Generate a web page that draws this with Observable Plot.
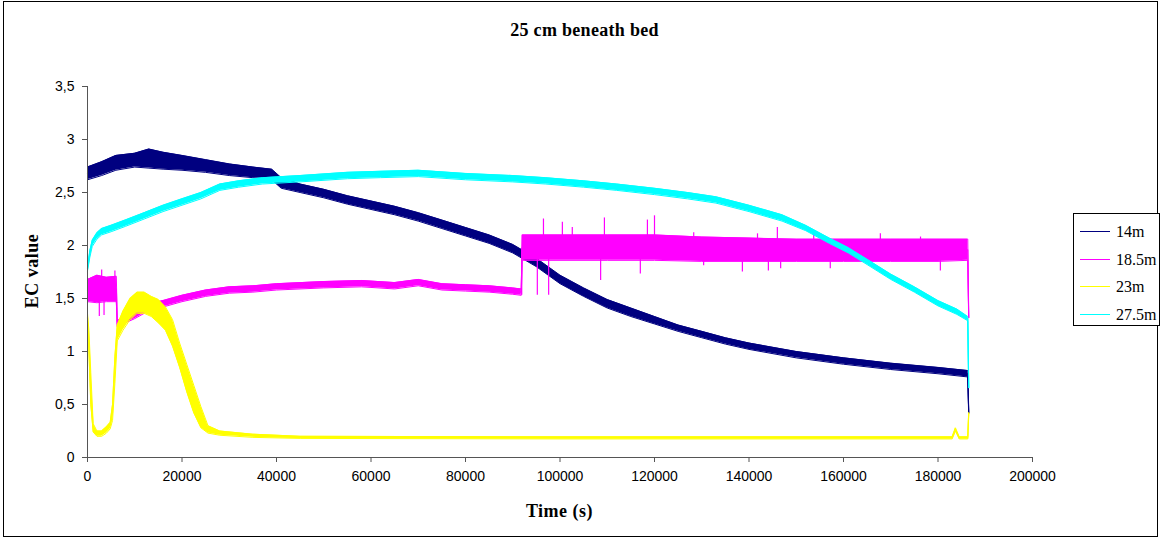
<!DOCTYPE html>
<html>
<head>
<meta charset="utf-8">
<script src="https://cdn.jsdelivr.net/npm/d3@7"></script>
<script src="https://cdn.jsdelivr.net/npm/@observablehq/plot@0.6"></script>
<style>
  html, body { margin: 0; padding: 0; background: #fff; }
  #wrap { position: relative; width: 1163px; height: 540px; overflow: hidden; }
  #frame { position: absolute; left: 3px; top: 1px; width: 1153px; height: 534px; border: 1.5px solid #000; box-sizing: content-box; }
  .serif { font-family: "Liberation Serif", "Times New Roman", serif; color: #000; position: absolute; white-space: nowrap; }
  #title { left: 0; width: 1163px; top: 20px; text-align: center; font-weight: bold; font-size: 18px; letter-spacing: 0.3px; padding-left: 6px; box-sizing: border-box; }
  #xlabel { left: 87px; width: 945px; top: 501px; text-align: center; font-weight: bold; font-size: 18px; letter-spacing: 0.5px; }
  #ylabel { left: 32px; top: 271px; font-weight: bold; font-size: 18px; letter-spacing: 0.5px; transform: translate(-50%, -50%) rotate(-90deg); }
  #legend { position: absolute; left: 1073px; top: 213px; width: 87px; height: 113px; border: 1px solid #000; background: #fff; box-sizing: border-box; }
  #legend .item { position: absolute; left: 0; height: 20px; width: 87px; }
  #legend .swatch { position: absolute; left: 6px; top: 9px; width: 30px; height: 0; border-top: 1.5px solid; }
  #legend .lab { position: absolute; left: 42px; top: 0; font-size: 16px; line-height: 20px; font-family: "Liberation Serif", "Times New Roman", serif; }
  #chart { position: absolute; left: 0; top: 0; }
</style>
</head>
<body>
<div id="wrap">
  <div id="frame"></div>
  <div id="chart"></div>
  <div id="title" class="serif">25 cm beneath bed</div>
  <div id="xlabel" class="serif">Time (s)</div>
  <div id="ylabel" class="serif">EC value</div>
  <div id="legend"></div>
</div>
<script>
// Axis ticks
const xTicks = [0, 20000, 40000, 60000, 80000, 100000, 120000, 140000, 160000, 180000, 200000];
const yTicks = [0, 0.5, 1, 1.5, 2, 2.5, 3, 3.5];

// Series names and colours
const seriesNames = ["14m", "18.5m", "23m", "27.5m"];
const seriesColors = ["#000080", "#ff00ff", "#ffff00", "#00ffff"];

// 14m: time (s) with lower / upper edge of the noisy trace
const t14 = [0, 3000, 6000, 10000, 13000, 16000, 20000, 25000, 30000, 35000, 39000, 41000, 45000, 50000, 55000, 60000, 65000, 70000, 75000, 80000, 85000, 90000, 95000, 100000, 105000, 110000, 115000, 120000, 125000, 130000, 135000, 140000, 150000, 160000, 170000, 180000, 186300, 186500];
const lo14 = [2.62, 2.66, 2.71, 2.74, 2.73, 2.72, 2.71, 2.69, 2.66, 2.64, 2.62, 2.54, 2.50, 2.45, 2.39, 2.34, 2.29, 2.23, 2.16, 2.09, 2.02, 1.93, 1.80, 1.64, 1.52, 1.41, 1.33, 1.26, 1.19, 1.13, 1.07, 1.02, 0.94, 0.88, 0.83, 0.79, 0.76, 0.42];
const hi14 = [2.74, 2.79, 2.85, 2.87, 2.91, 2.88, 2.85, 2.81, 2.77, 2.74, 2.72, 2.64, 2.58, 2.53, 2.47, 2.42, 2.37, 2.31, 2.24, 2.17, 2.10, 2.01, 1.88, 1.72, 1.60, 1.49, 1.41, 1.33, 1.25, 1.19, 1.13, 1.08, 1.00, 0.94, 0.89, 0.85, 0.82, 0.42];

// 18.5m
const t185 = [0, 2000, 4000, 6100, 6300, 8000, 10000, 12000, 14000, 16000, 20000, 25000, 30000, 35000, 40000, 50000, 58000, 65000, 70000, 75000, 80000, 85000, 90000, 91800, 92000, 100000, 110000, 120000, 130000, 140000, 150000, 160000, 170000, 180000, 186300, 186500];
const lo185 = [1.47, 1.46, 1.47, 1.47, 1.23, 1.27, 1.31, 1.36, 1.40, 1.42, 1.47, 1.52, 1.55, 1.56, 1.58, 1.60, 1.61, 1.59, 1.62, 1.58, 1.57, 1.56, 1.54, 1.53, 1.86, 1.86, 1.86, 1.86, 1.85, 1.85, 1.85, 1.85, 1.85, 1.85, 1.86, 1.32];
const hi185 = [1.68, 1.72, 1.70, 1.71, 1.29, 1.33, 1.37, 1.42, 1.46, 1.48, 1.53, 1.58, 1.61, 1.62, 1.64, 1.66, 1.67, 1.65, 1.68, 1.64, 1.63, 1.62, 1.60, 1.59, 2.10, 2.10, 2.10, 2.10, 2.08, 2.07, 2.06, 2.06, 2.06, 2.06, 2.06, 1.32];

// 23m
const t23 = [0, 300, 700, 1200, 2000, 3000, 4000, 4800, 5300, 5800, 6300, 7500, 9000, 10500, 12000, 13500, 15000, 16500, 18000, 19500, 21000, 22500, 24000, 25500, 28000, 35000, 45000, 100000, 183000, 183700, 184500, 186300, 186500];
const lo23 = [1.28, 1.00, 0.50, 0.24, 0.20, 0.20, 0.23, 0.27, 0.35, 0.70, 1.10, 1.20, 1.30, 1.36, 1.36, 1.33, 1.27, 1.20, 1.05, 0.85, 0.62, 0.42, 0.28, 0.23, 0.21, 0.19, 0.18, 0.175, 0.175, 0.25, 0.175, 0.175, 0.42];
const hi23 = [1.36, 1.20, 0.80, 0.32, 0.25, 0.25, 0.29, 0.33, 0.50, 0.95, 1.25, 1.38, 1.50, 1.56, 1.56, 1.52, 1.49, 1.42, 1.30, 1.08, 0.88, 0.68, 0.48, 0.30, 0.25, 0.22, 0.20, 0.195, 0.195, 0.28, 0.195, 0.195, 0.42];

// 27.5m
const t275 = [0, 500, 1000, 2000, 3000, 5000, 8000, 12000, 16000, 20000, 24000, 28000, 32000, 37000, 45000, 55000, 62000, 70000, 80000, 90000, 97000, 105000, 112000, 120000, 127000, 133000, 140000, 147000, 152000, 157000, 161000, 165000, 170000, 175000, 180000, 184000, 186300, 186500];
const lo275 = [1.76, 1.89, 1.99, 2.06, 2.10, 2.13, 2.18, 2.25, 2.32, 2.38, 2.44, 2.52, 2.55, 2.58, 2.60, 2.63, 2.64, 2.65, 2.62, 2.60, 2.58, 2.55, 2.52, 2.48, 2.44, 2.40, 2.32, 2.23, 2.14, 2.02, 1.93, 1.82, 1.68, 1.56, 1.43, 1.35, 1.29, 0.66];
const hi275 = [1.80, 1.95, 2.05, 2.12, 2.16, 2.19, 2.24, 2.31, 2.38, 2.44, 2.50, 2.58, 2.61, 2.64, 2.66, 2.69, 2.70, 2.71, 2.68, 2.66, 2.64, 2.61, 2.58, 2.54, 2.50, 2.46, 2.38, 2.29, 2.19, 2.07, 1.98, 1.87, 1.73, 1.61, 1.48, 1.40, 1.33, 0.66];

// Single excursions that stand out of the 18.5m noise band: time, from, to
const spikeT = [2500, 3000, 3500, 5800, 91900, 95200, 97600, 96500, 100500, 102600, 109400, 118500, 120000, 128300, 141800, 146000, 108600, 117000, 130400, 138600, 144100, 146700, 153700, 157200, 167800, 176300, 180500];
const spikeFrom = [1.55, 1.60, 1.55, 1.60, 1.97, 1.97, 1.97, 1.97, 1.97, 1.97, 1.97, 1.97, 1.97, 1.97, 1.97, 1.97, 1.97, 1.97, 1.97, 1.97, 1.97, 1.96, 1.96, 1.96, 1.96, 1.96, 1.96];
const spikeTo = [1.33, 1.77, 1.34, 1.76, 1.53, 1.53, 1.53, 2.25, 2.22, 2.17, 2.26, 2.24, 2.28, 2.12, 2.11, 2.17, 1.67, 1.73, 1.81, 1.75, 1.76, 1.78, 2.14, 1.78, 2.11, 2.08, 1.76];

const traces = [
  {t: t14, lo: lo14, hi: hi14},
  {t: t185, lo: lo185, hi: hi185},
  {t: t23, lo: lo23, hi: hi23},
  {t: t275, lo: lo275, hi: hi275}
];

const rowsOf = (s) => s.t.map((t, i) => ({t, lo: s.lo[i], hi: s.hi[i], mid: (s.lo[i] + s.hi[i]) / 2}));
const spikes = spikeT.map((t, i) => ({t, a: spikeFrom[i], b: spikeTo[i]}));

// Each trace: filled noise band, its two edges, and the centre line (carries the end drop)
const marks = [];
traces.forEach((s, k) => {
  const rows = rowsOf(s);
  const c = seriesColors[k];
  marks.push(Plot.areaY(rows, {x: "t", y1: "lo", y2: "hi", fill: c}));
  marks.push(Plot.line(rows, {x: "t", y: "lo", stroke: c, strokeWidth: 1}));
  marks.push(Plot.line(rows, {x: "t", y: "hi", stroke: c, strokeWidth: 1}));
  marks.push(Plot.line(rows, {x: "t", y: "mid", stroke: c, strokeWidth: 1.2}));
  if (k === 1) {
    marks.push(Plot.ruleX(spikes, {x: "t", y1: "a", y2: "b", stroke: c, strokeWidth: 1.2}));
  }
});

const chart = Plot.plot({
  width: 1163,
  height: 540,
  marginLeft: 87,
  marginRight: 131,
  marginTop: 86,
  marginBottom: 83,
  style: {fontFamily: "'Liberation Sans', Arial, sans-serif", fontSize: "14px", background: "transparent", color: "#000"},
  x: {domain: [0, 200000]},
  y: {domain: [0, 3.5]},
  marks: [
    ...marks,
    Plot.ruleY([0], {stroke: "#555", strokeWidth: 1}),
    Plot.ruleX([0], {stroke: "#555", strokeWidth: 1}),
    Plot.axisY({ticks: yTicks, tickFormat: d => String(d).replace(".", ","), tickSize: 5, tickPadding: 8, label: null, stroke: "#555"}),
    Plot.axisX({ticks: xTicks, tickFormat: d => String(d), tickSize: 5, tickPadding: 9, label: null, stroke: "#555"})
  ]
});
document.getElementById("chart").appendChild(chart);

// Legend entries
const legend = document.getElementById("legend");
seriesNames.forEach((name, i) => {
  const item = document.createElement("div");
  item.className = "item";
  item.style.top = (8 + i * 27.7) + "px";
  const sw = document.createElement("div");
  sw.className = "swatch";
  sw.style.borderTopColor = seriesColors[i];
  const lab = document.createElement("div");
  lab.className = "lab";
  lab.textContent = name;
  item.appendChild(sw);
  item.appendChild(lab);
  legend.appendChild(item);
});
</script>
</body>
</html>
